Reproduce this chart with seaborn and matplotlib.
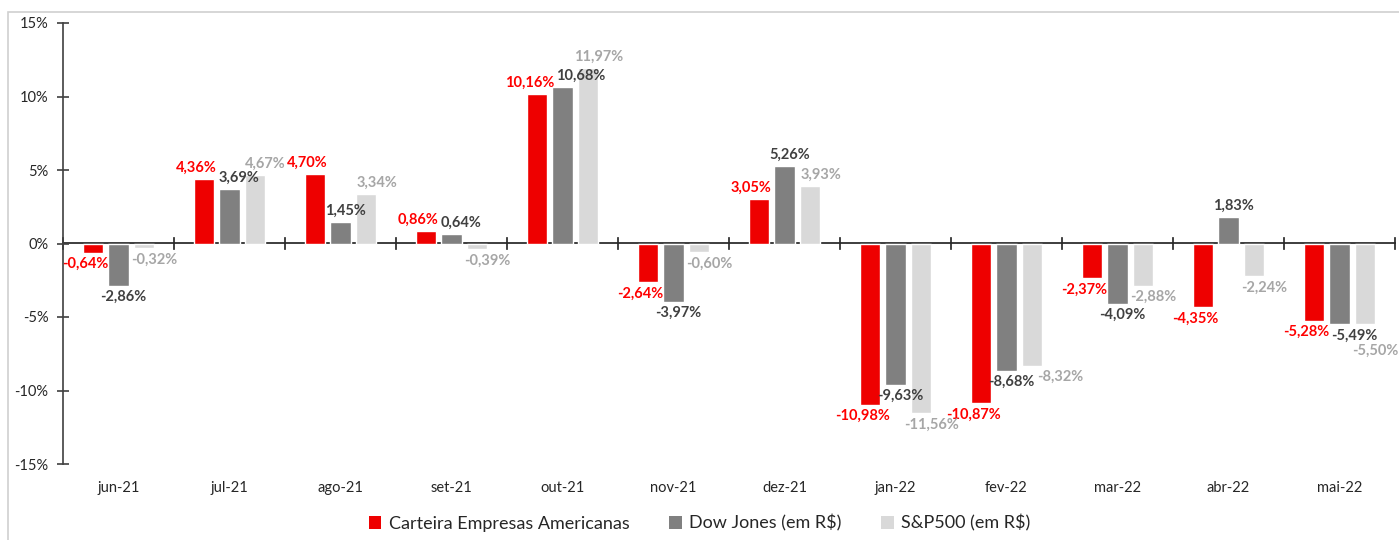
import matplotlib
matplotlib.use("Agg")
import matplotlib.pyplot as plt
import matplotlib.patches as mpatches
import seaborn as sns
import pandas as pd
import numpy as np

months = ["jun-21", "jul-21", "ago-21", "set-21", "out-21", "nov-21",
          "dez-21", "jan-22", "fev-22", "mar-22", "abr-22", "mai-22"]
series_names = ["Carteira Empresas Americanas", "Dow Jones (em R$)", "S&P500 (em R$)"]
carteira = [-0.64, 4.36, 4.70, 0.86, 10.16, -2.64, 3.05, -10.98, -10.87, -2.37, -4.35, -5.28]
dow_jones = [-2.86, 3.69, 1.45, 0.64, 10.68, -3.97, 5.26, -9.63, -8.68, -4.09, 1.83, -5.49]
sp500 = [-0.32, 4.67, 3.34, -0.39, 11.97, -0.60, 3.93, -11.56, -8.32, -2.88, -2.24, -5.50]
yticks = [-15, -10, -5, 0, 5, 10, 15]

bar_colors = ["#EE0000", "#808080", "#D9D9D9"]
label_colors = ["#FF0000", "#404040", "#A6A6A6"]
label_dx_px = [-8, 5, 11]   # horizontal nudge of data labels per series (style)

W, H, DPI = 1399, 540, 100
PX2PT = 72.0 / DPI

df = pd.DataFrame({
    "mes": months * 3,
    "serie": [series_names[0]] * 12 + [series_names[1]] * 12 + [series_names[2]] * 12,
    "valor": carteira + dow_jones + sp500,
})

sns.set_theme(style="white")
plt.rcParams["font.family"] = ["Lato", "DejaVu Sans"]

fig = plt.figure(figsize=(W / DPI, H / DPI), dpi=DPI)
ax = fig.add_axes([63 / W, 1 - 464 / H, (1395 - 63) / W, (464 - 23) / H])

# outer light border
fig.patches.append(mpatches.Rectangle((8 / W, -0.01), 1.0, 1 - 12 / H + 0.01,
                                      transform=fig.transFigure, fill=False,
                                      edgecolor="#D0D0D0", linewidth=1.2, zorder=0))

sns.barplot(data=df, x="mes", y="valor", hue="serie", order=months,
            hue_order=series_names, palette=bar_colors, width=0.68, gap=0.2,
            saturation=1, errorbar=None, ax=ax, legend=False)

all_labels = []
for cont, vals, col, dx in zip(ax.containers, [carteira, dow_jones, sp500],
                               label_colors, label_dx_px):
    labs = [f"{v:.2f}%".replace(".", ",") for v in vals]
    anns = ax.bar_label(cont, labels=labs, padding=3, color=col, fontsize=10.5,
                        fontweight="bold")
    for a in anns:
        x0, y0 = a.xyann
        a.xyann = (x0 + dx * PX2PT, y0)
    all_labels.append(anns)

ax.set_ylim(-15, 15)
ax.set_xlim(-0.5, len(months) - 0.5)
ax.set_yticks(yticks)
ax.set_yticklabels([f"{t}%" for t in yticks])
ax.set_xlabel("")
ax.set_ylabel("")

for s in ["top", "right", "bottom"]:
    ax.spines[s].set_visible(False)
ax.spines["left"].set_color("#404040")
ax.spines["left"].set_linewidth(1.2)
ax.tick_params(axis="y", direction="inout", length=9, width=1.2, color="#404040",
               labelsize=10.5, labelcolor="#262626", pad=6, left=True)
ax.tick_params(axis="x", length=0, labelsize=10.5, labelcolor="#262626", pad=12)

# zero axis line with tick marks between categories
sec = ax.secondary_xaxis(0.5)
sec.set_xticks(np.arange(-0.5, len(months), 1.0))
sec.set_xticklabels([])
sec.spines["bottom"].set_color("#404040")
sec.spines["bottom"].set_linewidth(1.2)
sec.tick_params(axis="x", direction="inout", length=9, width=1.2, color="#404040",
                bottom=True)

handles = [mpatches.Patch(facecolor=c, edgecolor="none") for c in bar_colors]
fig.legend(handles, series_names, loc="center", bbox_to_anchor=(0.5, 1 - 523 / H),
           ncol=3, frameon=False, fontsize=13, handlelength=0.7, handleheight=0.7,
           handletextpad=0.4, columnspacing=2.2, labelcolor="#262626")

# resolve overlapping data labels within each month group
fig.canvas.draw()
rend = fig.canvas.get_renderer()
series_vals = [carteira, dow_jones, sp500]
for i in range(len(months)):
    anns = [all_labels[s][i] for s in range(3)]
    for j in range(1, 3):
        for k in range(j):
            bj = anns[j].get_window_extent(rend)
            bk = anns[k].get_window_extent(rend)
            if bj.overlaps(bk):
                shift = bk.x1 - bj.x0 + 2
                x0, y0 = anns[j].xyann
                if bj.x1 + shift < W - 2:
                    anns[j].xyann = (x0 + shift * PX2PT, y0)
                else:
                    if series_vals[j][i] < 0:
                        dy = (bk.y0 - 1) - bj.y1
                    else:
                        dy = (bk.y1 + 1) - bj.y0
                    anns[j].xyann = (x0, y0 + dy * PX2PT)

fig.savefig("out.png", dpi=DPI)
